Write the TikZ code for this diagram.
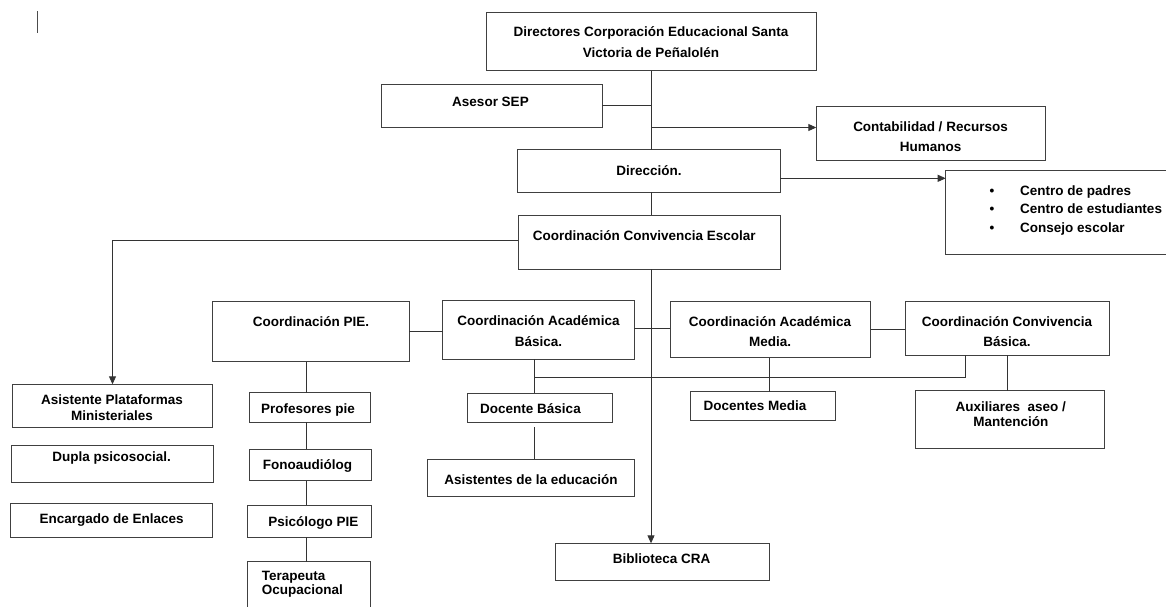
\documentclass[tikz,border=0pt]{standalone}
\usepackage{fontspec}
\setmainfont{Liberation Sans}
\usetikzlibrary{arrows.meta,calc}
\newcommand\mkbox[5]{\node[box, minimum width=#4-#2, minimum height=#5-#3] (#1) at (#2,#3) {};}
\newcommand\tlc[1]{\begin{tabular}[t]{@{}c@{}}#1\end{tabular}}
\newcommand\tll[1]{\begin{tabular}[t]{@{}l@{}}#1\end{tabular}}
\tikzset{
  box/.style={draw=black!75, line width=0.9pt, inner sep=0pt, outer sep=0pt, anchor=north west},
  txt/.style={inner sep=0pt, anchor=base, font=\fontsize{13.5}{#1}\selectfont\bfseries},
  txt/.default=16,
  conn/.style={draw=black!80, line width=0.9pt},
  arr/.style={conn, -{Triangle[length=8pt,width=7pt]}}
}
\begin{document}
\begin{tikzpicture}[x=1pt,y=-1pt]
\useasboundingbox (0,0) rectangle (1166,606);
% stray cursor mark
\draw[draw=black!70, line width=0.8pt] (37,11) -- (37,33);
% boxes
\mkbox{dir}{486}{12.3}{816}{70.7}
\mkbox{ases}{381}{84.3}{602}{127.3}
\mkbox{cont}{816.3}{106.7}{1045.3}{160}
\mkbox{dirc}{517.3}{149.7}{780}{192.3}
\mkbox{cce}{518.3}{215}{780}{269.3}
\mkbox{pie}{212.7}{301}{409.3}{361.7}
\mkbox{acb}{442.7}{300}{634.3}{359}
\mkbox{acm}{670}{301}{870.7}{357.7}
\mkbox{cvb}{905}{301}{1109.3}{355.3}
\mkbox{asp}{12.7}{384.3}{212.3}{427}
\mkbox{dup}{11}{445}{213.3}{482.3}
\mkbox{enc}{10.3}{503.3}{212.3}{537.3}
\mkbox{prof}{249.3}{392.7}{370.7}{422.3}
\mkbox{fono}{249.3}{449.3}{371}{480.7}
\mkbox{psi}{247.7}{505}{371.7}{537.3}
\mkbox{ter}{247.7}{561.7}{370}{615}
\mkbox{docb}{467.7}{393.3}{612}{422.7}
\mkbox{docm}{690.7}{391.7}{835}{420.7}
\mkbox{asis}{427.7}{459.3}{634.7}{496.7}
\mkbox{bib}{555}{543.3}{769}{580.3}
\mkbox{aux}{915.7}{390.7}{1104.3}{448.3}
% centro box: open to the right (runs off the page)
\mkbox{cen}{945.7}{170}{1180}{254.3}
% texts
\node[txt=21.5] (dir-t) at (651,36) {\tlc{Directores Corporación Educacional Santa\\Victoria de Peñalolén}};
\node[txt] (ases-t) at (490.5,106.7) {Asesor SEP};
\node[txt=20] (cont-t) at (930.5,131.7) {\tlc{Contabilidad / Recursos\\Humanos}};
\node[txt] (dirc-t) at (649,175) {Dirección.};
\node[txt=18.8, anchor=base west] (cen-t) at (989.3,195) {\begin{tabular}[t]{@{}l@{\hspace{26pt}}l@{}}•&Centro de padres\\•&Centro de estudiantes\\•&Consejo escolar\end{tabular}};
\node[txt] (cce-t) at (644.3,240.5) {Coordinación Convivencia Escolar};
\node[txt] (pie-t) at (311,326.7) {Coordinación PIE.};
\node[txt=21] (acb-t) at (538.5,325) {\tlc{Coordinación Académica\\Básica.}};
\node[txt=20] (acm-t) at (770,326) {\tlc{Coordinación Académica\\Media.}};
\node[txt=20] (cvb-t) at (1007,326.7) {\tlc{Coordinación Convivencia\\Básica.}};
\node[txt=16.7] (asp-t) at (112,404) {\tlc{Asistente Plataformas\\Ministeriales}};
\node[txt] (dup-t) at (111.7,461.7) {Dupla psicosocial.};
\node[txt] (enc-t) at (111.7,523.3) {Encargado de Enlaces};
\node[txt] (prof-t) at (308,413.3) {Profesores pie};
\node[txt] (fono-t) at (307.5,469.3) {Fonoaudiólog};
\node[txt] (psi-t) at (313.3,526.7) {Psicólogo PIE};
\node[txt=14, anchor=base west] (ter-t) at (261.7,580) {\tll{Terapeuta\\Ocupacional}};
\node[txt] (docb-t) at (530.5,413.3) {Docente Básica};
\node[txt] (docm-t) at (755,410.7) {Docentes Media};
\node[txt] (asis-t) at (531,484) {Asistentes de la educación};
\node[txt] (bib-t) at (661.7,563.3) {Biblioteca CRA};
\node[txt=15] (aux-t) at (1010.8,411.7) {\tlc{Auxiliares\ \ aseo /\\Mantención}};
% junction points
\coordinate (spine) at (651,127.5);
\coordinate (jb) at (534.3,377.7);
\coordinate (jp) at (306.7,380);
% connectors
\draw[conn] (dir.south) -- (dir.south |- dirc.north);
\draw[conn] (ases.east) -- (ases.east -| dir.south);
\draw[arr] (spine) -- (spine -| cont.west);
\draw[arr] ([yshift=-7.3pt]dirc.east) -- ([yshift=-7.3pt]dirc.east -| cen.west);
\draw[conn] (dir.south |- dirc.south) -- (dir.south |- cce.north);
\draw[arr] ([yshift=1.3pt]cce.west) -| (asp.north);
\draw[arr] (dir.south |- cce.south) -- (dir.south |- bib.north);
\draw[conn] (pie.east) -- (pie.east -| acb.west);
\draw[conn] ([yshift=1.2pt]acb.east) -- ([yshift=1.2pt]acb.east -| acm.west);
\draw[conn] (acm.east) -- (acm.east -| cvb.west);
\draw[conn] ([xshift=-42pt]cvb.south) |- (jb);
\draw[conn] (jb |- acb.south) -- (jb |- docb.north);
\draw[conn] ([yshift=-4.6pt]jb |- docb.south) -- (jb |- asis.north);
\draw[conn] ([xshift=-0.7pt]acm.south) -- ([xshift=-0.7pt]acm.south |- docm.north);
\draw[conn] (cvb.south) -- (cvb.south |- aux.north);
\draw[conn] (jp |- pie.south) -- (jp |- prof.north);
\draw[conn] (jp |- prof.south) -- (jp |- fono.north);
\draw[conn] (jp |- fono.south) -- (jp |- psi.north);
\draw[conn] (jp |- psi.south) -- (jp |- ter.north);
\end{tikzpicture}
\end{document}
